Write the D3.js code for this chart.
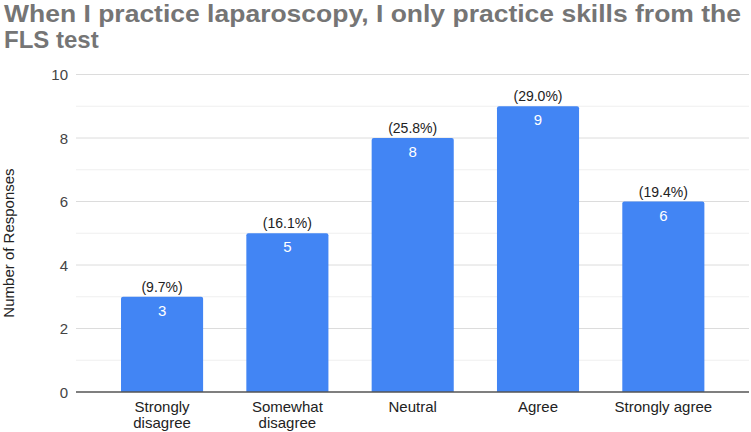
<!DOCTYPE html>
<html><head><meta charset="utf-8">
<script src="https://cdn.jsdelivr.net/npm/d3@7"></script>
<style>body{margin:0;background:#fff}svg{display:block}text{font-family:"Liberation Sans",Arial,sans-serif}</style>
</head><body>
<script>
const categories = [["Strongly","disagree"],["Somewhat","disagree"],["Neutral"],["Agree"],["Strongly agree"]];
const values = [3,5,8,9,6];
const percentLabels = ["(9.7%)","(16.1%)","(25.8%)","(29.0%)","(19.4%)"];
const yTicks = [0,2,4,6,8,10];
const minorTicks = [1,3,5,7,9];
const titleLines = ["When I practice laparoscopy, I only practice skills from the","FLS test"];
const yTitle = "Number of Responses";

const W=751,H=432;
const svg=d3.select("body").append("svg").attr("width",W).attr("height",H);
const keys=categories.map((c,i)=>i);
const x=d3.scaleBand().domain(keys).range([99.4,726]).paddingInner(0.345).paddingOuter(0.1725);
const y=d3.scaleLinear().domain([0,10]).range([392,74.5]);
const gridL=76,gridR=749;

// title
const tg=svg.append("g");
titleLines.forEach((t,i)=>{
  const el=tg.append("text").attr("x",4).attr("y",22+i*25.5).attr("font-size",24).attr("font-weight","bold")
    .attr("fill","#757575").text(t);
  if(i===0) el.attr("textLength",737).attr("lengthAdjust","spacingAndGlyphs");
});

// gridlines
svg.append("g").selectAll("line.minor").data(minorTicks).join("line")
  .attr("x1",gridL).attr("x2",gridR).attr("y1",d=>y(d)).attr("y2",d=>y(d))
  .attr("stroke","#efefef").attr("stroke-width",1);
svg.append("g").selectAll("line.major").data(yTicks.filter(d=>d>0)).join("line")
  .attr("x1",gridL).attr("x2",gridR).attr("y1",d=>y(d)).attr("y2",d=>y(d))
  .attr("stroke","#dcdcdc").attr("stroke-width",1);

// y axis labels
const yAxis=d3.axisLeft(y).tickValues(yTicks).tickSize(0).tickPadding(0);
const ya=svg.append("g").attr("transform",`translate(68,0)`).call(yAxis);
ya.select(".domain").remove();
ya.selectAll("text").attr("font-size",15).attr("fill","#444").attr("dy","0.35em").attr("font-family","Liberation Sans, Arial, sans-serif");

svg.append("text").attr("transform",`translate(14,243) rotate(-90)`).attr("text-anchor","middle")
  .attr("font-size",15).attr("fill","#222").text(yTitle);

// bars
const bw=x.bandwidth();
svg.append("g").selectAll("path").data(keys).join("path")
  .attr("d",i=>{
    const x0=x(i),x1=x0+bw,y0=y(values[i]),y1=y(0),r=2;
    return `M${x0},${y1}V${y0+r}Q${x0},${y0} ${x0+r},${y0}H${x1-r}Q${x1},${y0} ${x1},${y0+r}V${y1}Z`;
  }).attr("fill","#4285F4");

// value labels
svg.append("g").selectAll("text").data(keys).join("text")
  .attr("x",i=>x(i)+bw/2).attr("y",i=>y(values[i])+19).attr("text-anchor","middle")
  .attr("font-size",15).attr("fill","#fff").text(i=>values[i]);

// percent labels with white backing
const pg=svg.append("g");
keys.forEach(i=>{
  const cx=x(i)+bw/2, by=y(values[i])-5;
  const t=pg.append("text").attr("x",cx).attr("y",by).attr("text-anchor","middle")
    .attr("font-size",14).attr("fill","#222").text(percentLabels[i]);
  const bb=t.node().getBBox();
  pg.insert("rect","text").attr("x",bb.x-6).attr("y",bb.y).attr("width",bb.width+12).attr("height",bb.height).attr("fill","#fff");
});

// baseline
svg.append("line").attr("x1",gridL).attr("x2",gridR).attr("y1",y(0)).attr("y2",y(0))
  .attr("stroke","#555").attr("stroke-width",1.5);

// x labels
const xg=svg.append("g");
keys.forEach(i=>{
  const t=xg.append("text").attr("x",x(i)+bw/2).attr("y",412).attr("text-anchor","middle")
    .attr("font-size",15).attr("fill","#222");
  categories[i].forEach((l,j)=>t.append("tspan").attr("x",x(i)+bw/2).attr("dy",j?15.5:0).text(l));
});
</script>
</body></html>
